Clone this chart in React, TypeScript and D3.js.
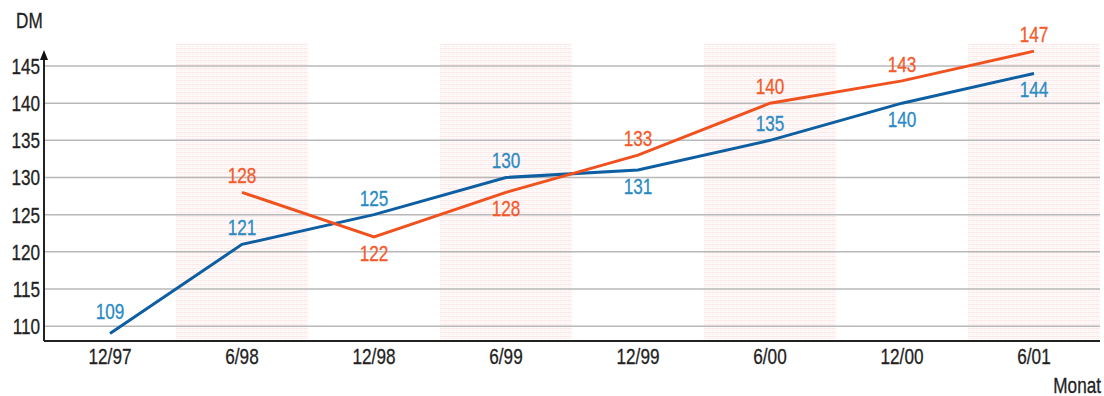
import React from "react";
import * as d3 from "d3";

const months = ["12/97", "6/98", "12/98", "6/99", "12/99", "6/00", "12/00", "6/01"];
const blueValues = [109, 121, 125, 130, 131, 135, 140, 144];
const orangeValues = [null, 128, 122, 128, 133, 140, 143, 147];
const yTicks = [110, 115, 120, 125, 130, 135, 140, 145];
// which side of the point each value label sits on
const blueLabelSide = ["high", "up", "up", "up", "down", "up", "down", "down"];
const orangeLabelSide = ["up", "up", "down", "down", "up", "up", "up", "up"];
const shadedMonths = ["6/98", "6/99", "6/00", "6/01"];

const W = 1104;
const H = 396;
const left = 44;
const right = 1100;
const bottom = 341;
const bandTop = 43;

const FONT = "'Liberation Sans', Arial, sans-serif";
const BLUE = "#0e5fa2";
const BLUE_TEXT = "#2a8bc3";
const ORANGE = "#f0521f";
const ORANGE_TEXT = "#f45a2c";

const sideOffset = { high: -15, up: -9, down: 24 };

// narrow, tall text like the original bitmap font
const T = ({ x, y, anchor = "start", fill = "#222", children }: any) => (
    <text
        transform={`translate(${x},${y}) scale(0.78,1)`}
        textAnchor={anchor}
        fontSize={22}
        fill={fill}
        stroke={fill}
        strokeWidth={0.3}
    >
        {children}
    </text>
);

const App = () => {
    const x = d3.scalePoint<string>().domain(months).range([left, right]).padding(0.5);
    const y = d3.scaleLinear().domain([108, 145]).range([bottom, 66]);
    const step = x.step();

    const line = d3
        .line<number | null>()
        .defined(d => d != null)
        .x((d, i) => x(months[i]) as number)
        .y(d => y(d as number));

    const labels = (vals: (number | null)[], sides: string[], color: string) =>
        vals.map((v, i) =>
            v == null ? null : (
                <T
                    key={i}
                    x={x(months[i])}
                    y={y(v) + sideOffset[sides[i]]}
                    anchor="middle"
                    fill={color}
                >
                    {v}
                </T>
            )
        );

    return (
        <svg
            width={W}
            height={H}
            style={{ position: "absolute", left: 0, top: 0, fontFamily: FONT, background: "#fff" }}
        >
            <defs>
                <pattern id="hatch" width="4" height="4" patternUnits="userSpaceOnUse">
                    <rect width="4" height="4" fill="#fffafa" />
                    <rect width="4" height="1" fill="#fde9e9" />
                    <rect y="2" width="2" height="1" fill="#fdeeee" />
                </pattern>
            </defs>

            {shadedMonths.map(m => (
                <rect
                    key={m}
                    x={(x(m) as number) - step / 2}
                    y={bandTop}
                    width={Math.min(step, right - ((x(m) as number) - step / 2))}
                    height={bottom - bandTop}
                    fill="url(#hatch)"
                />
            ))}

            {yTicks.map(t => (
                <g key={t}>
                    <line x1={left} x2={right} y1={y(t)} y2={y(t)} stroke="#b8b8b8" strokeWidth={1.5} />
                    <T x={40} y={y(t) + 8} anchor="end">
                        {t}
                    </T>
                </g>
            ))}

            {months.map(m => (
                <T key={m} x={x(m)} y={bottom + 23} anchor="middle">
                    {m}
                </T>
            ))}

            <line x1={left} x2={right} y1={bottom} y2={bottom} stroke="#222" strokeWidth={2} />
            <line x1={left} x2={left} y1={bottom} y2={56} stroke="#222" strokeWidth={2} />
            <path d={`M${left - 4},${60} L${left},${50} L${left + 4},${60} Z`} fill="#111" />

            <T x={16} y={28}>DM</T>
            <T x={1101} y={393} anchor="end">Monat</T>

            <path d={line(blueValues) || ""} fill="none" stroke={BLUE} strokeWidth={3} />
            <path d={line(orangeValues) || ""} fill="none" stroke={ORANGE} strokeWidth={3} />

            {labels(blueValues, blueLabelSide, BLUE_TEXT)}
            {labels(orangeValues, orangeLabelSide, ORANGE_TEXT)}
        </svg>
    );
};

export default App;
